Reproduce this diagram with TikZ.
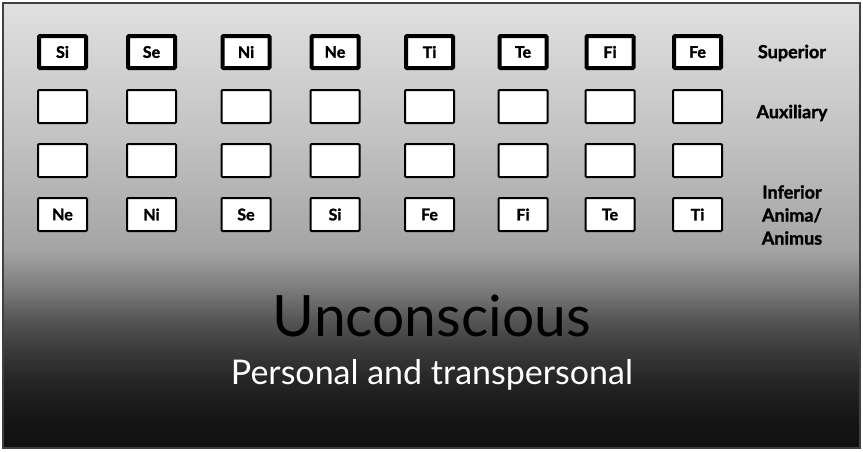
\documentclass[tikz,border=0pt]{standalone}
\usepackage{fontspec}
\setmainfont{Lato}
\newfontfamily\heavyfont{Lato}[BoldFeatures={FakeBold=1.5}]
\usepackage{tikz}
\usetikzlibrary{positioning, calc}

\definecolor{bgA}{HTML}{101010}
\definecolor{bgB}{HTML}{151515}
\definecolor{bgC}{HTML}{252525}
\definecolor{bgD}{HTML}{3A3A3A}
\definecolor{bgE}{HTML}{555555}
\definecolor{bgF}{HTML}{7A7A7A}
\definecolor{bgG}{HTML}{A4A4A4}
\definecolor{bgH}{HTML}{C4C4C4}
\definecolor{bgI}{HTML}{E0E0E0}
\pgfdeclareverticalshading{slideshade}{100bp}{
    color(0bp)=(bgA); color(25bp)=(bgA); color(28.1bp)=(bgB);
    color(32.6bp)=(bgC); color(36bp)=(bgD); color(39.4bp)=(bgE);
    color(42.75bp)=(bgF); color(47.2bp)=(bgG); color(60.7bp)=(bgH);
    color(75bp)=(bgI); color(100bp)=(bgI)}

\begin{document}
\begin{tikzpicture}[
        x=1pt, y=-1pt,
        % Define a uniform style for all function boxes
        fnbox/.style={
            rectangle,
            draw=black,
            fill=white,
            line width=2pt,
            minimum width=49pt,
            minimum height=33pt,
            rounded corners=1pt,
            inner sep=0pt,
            font=\heavyfont\bfseries\fontsize{16}{18}\selectfont
        },
        supbox/.style={
            fnbox,
            line width=4pt,
            minimum width=47pt,
            minimum height=32pt
        },
        rowlabel/.style={
            align=center,
            font=\heavyfont\bfseries\fontsize{18}{23}\selectfont
        }
    ]

    % Background slide
    \fill[white] (0,0) rectangle (863,451);
    \shade[shading=slideshade, draw=black!75, line width=1.5pt] (3,3) rectangle (860,448);

    % Draw the function boxes, one column at a time
    \foreach \x/\sup/\inf [count=\i] in {62.5/Si/Ne, 151.5/Se/Ni, 246/Ni/Se, 335/Ne/Si,
                                         429.5/Ti/Fe, 523/Te/Fi, 610/Fi/Te, 697.5/Fe/Ti} {
        \node (sup-\i) [supbox] at (\x,52) {\sup};
        \node (aux-\i) [fnbox] at (\x,106.5) {};
        \node (ter-\i) [fnbox] at (\x,160.5) {};
        \node (inf-\i) [fnbox] at (\x,214.5) {\inf};
    }

    % Row labels
    \node (superior) [rowlabel] at (792,53) {Superior};
    \node (auxiliary) [rowlabel] at (792,113) {Auxiliary};
    \node (inferior) [rowlabel] at (792,215) {Inferior\\Anima/\\Animus};

    % Unconscious
    \node (unconscious) at (432,316) {\fontsize{57}{60}\selectfont Unconscious};
    \node (personal) [below=15pt of unconscious, text=white] {\fontsize{34}{40}\selectfont Personal and transpersonal};

\end{tikzpicture}
\end{document}
